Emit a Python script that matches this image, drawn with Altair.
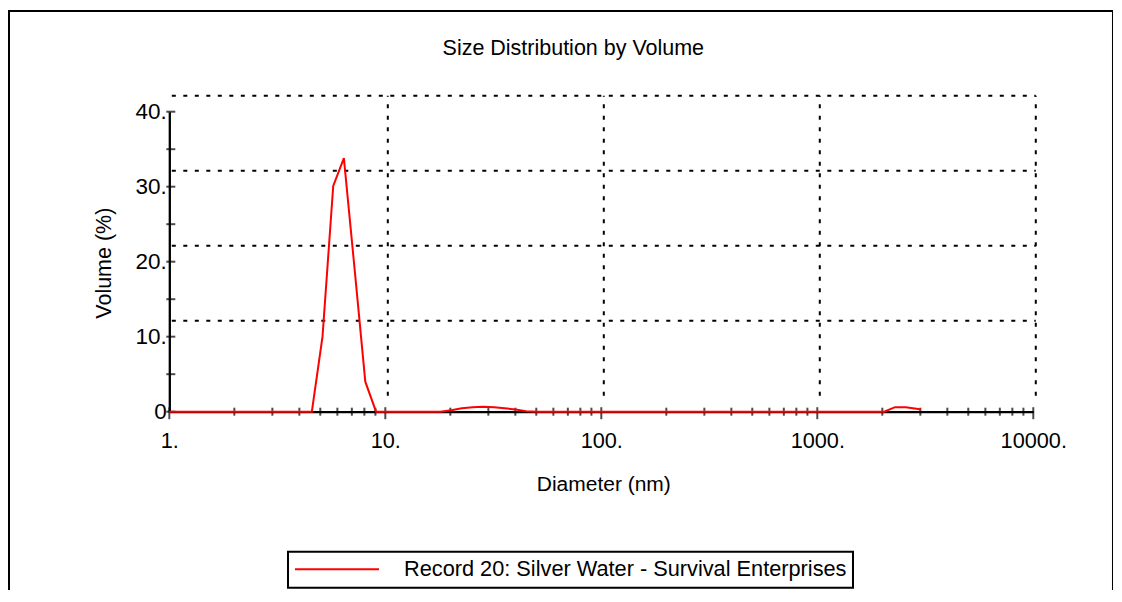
import altair as alt
import pandas as pd

# ---------------- data ----------------
series_name = "Record 20: Silver Water - Survival Enterprises"

diameter_nm = [1.0, 1.26, 1.58, 2.0, 2.51, 3.16, 3.98, 4.57, 5.12, 5.74, 6.43,
               7.21, 8.08, 9.06, 10.2, 11.4, 12.8, 14.3, 16.1, 18.0, 20.2, 22.6,
               25.4, 28.4, 31.9, 35.7, 40.1, 44.9, 50.4, 63.3, 79.6, 100, 126,
               158, 200, 251, 316, 398, 501, 631, 794, 1000, 1259, 1585, 1820,
               2040, 2290, 2570, 2880, 3020]
volume_pct = [0, 0, 0, 0, 0, 0, 0, 0, 10.0, 30.1, 33.8,
              19.0, 4.0, 0, 0, 0, 0, 0, 0, 0, 0.2, 0.45,
              0.6, 0.65, 0.6, 0.45, 0.3, 0.05, 0, 0, 0, 0, 0,
              0, 0, 0, 0, 0, 0, 0, 0, 0, 0, 0, 0,
              0, 0.6, 0.6, 0.4, 0.3]

x_label_values = [1, 10, 100, 1000, 10000]
x_tick_major = [1, 10, 100, 1000, 10000]
x_tick_minor = [2, 3, 4, 5, 6, 7, 8, 9,
                20, 30, 40, 50, 60, 70, 80, 90,
                200, 300, 400, 500, 600, 700, 800, 900,
                2000, 3000, 4000, 5000, 6000, 7000, 8000, 9000]
y_label_values = [0, 10, 20, 30, 40]
y_ticks = [0, 5, 10, 15, 20, 25, 30, 35, 40]
grid_x = [10, 100, 1000, 10000]
grid_y = [10, 20, 30, 40]

# ---------------- styling ----------------
FONT = "Liberation Sans"
W, H = 864, 300
FS = 21.7

xs = alt.Scale(type="log", domain=[1, 10000], nice=False)
ys = alt.Scale(domain=[0, 40], nice=False, zero=True)

x_axis = alt.Axis(
    values=x_label_values, format="d", labelExpr="datum.label + '.'",
    ticks=False, tickSize=0, grid=False,
    domainColor="black", domainWidth=2.3,
    labelFont=FONT, labelFontSize=FS, labelColor="black", labelPadding=19,
    labelOverlap=False, labelFlush=False,
    title="Diameter (nm)", titleFont=FONT, titleFontSize=21,
    titleFontWeight="normal", titleColor="black",
    titleX=W / 2 + 2, titleY=79, titleBaseline="alphabetic")
y_axis = alt.Axis(
    values=y_label_values, format="d",
    labelExpr="datum.value == 0 ? '0' : datum.label + '.'",
    ticks=False, tickSize=0, grid=False,
    domainColor="black", domainWidth=2.3,
    labelFont=FONT, labelFontSize=22.5, labelColor="black", labelPadding=3,
    title="Volume (%)", titleFont=FONT, titleFontSize=21.5,
    titleFontWeight="normal", titleColor="black",
    titleX=-59, titleY=H / 2 + 1, titleBaseline="alphabetic")

line_df = pd.DataFrame({"d": diameter_nm, "v": volume_pct, "s": series_name})

line = alt.Chart(line_df).mark_line(strokeWidth=2).encode(
    x=alt.X("d:Q", scale=xs, axis=x_axis),
    y=alt.Y("v:Q", scale=ys, axis=y_axis),
    color=alt.Color("s:N", scale=alt.Scale(domain=[series_name], range=["#ff0000"]),
                    legend=alt.Legend(
                        title=None, orient="none", legendX=118.7, legendY=440,
                        symbolType="M-1,0H7", symbolSize=441, symbolStrokeWidth=2,
                        labelOffset=87, labelFont=FONT, labelFontSize=21.75,
                        labelColor="black", labelLimit=800,
                        strokeColor="black", padding=6)),
)

dash = [4, 7.5]
grid_v = alt.Chart(pd.DataFrame({"g": grid_x})).mark_rule(
    strokeDash=dash, strokeWidth=2, color="black",
    xOffset=2.5, yOffset=-16, y2Offset=-16).encode(
    x=alt.X("g:Q", scale=xs, axis=x_axis),
    y=alt.YDatum(0, scale=ys, axis=y_axis),
    y2=alt.Y2Datum(40),
)
grid_h = alt.Chart(pd.DataFrame({"g": grid_y})).mark_rule(
    strokeDash=dash, strokeWidth=2, color="black",
    xOffset=2.5, x2Offset=2.5, yOffset=-16).encode(
    y=alt.Y("g:Q", scale=ys, axis=y_axis),
    x=alt.XDatum(1, scale=xs, axis=x_axis),
    x2=alt.X2Datum(10000),
)

xt_minor = alt.Chart(pd.DataFrame({"t": x_tick_minor})).mark_tick(
    orient="vertical", size=8, thickness=2, color="black").encode(
    x=alt.X("t:Q", scale=xs, axis=x_axis),
    y=alt.YDatum(0, scale=ys, axis=y_axis),
)
xt_major = alt.Chart(pd.DataFrame({"t": x_tick_major})).mark_tick(
    orient="vertical", size=12, thickness=2, color="black", yOffset=1.5).encode(
    x=alt.X("t:Q", scale=xs, axis=x_axis),
    y=alt.YDatum(0, scale=ys, axis=y_axis),
)
yt = alt.Chart(pd.DataFrame({"t": y_ticks})).mark_tick(
    orient="horizontal", size=9, thickness=2, color="black", xOffset=1.5).encode(
    y=alt.Y("t:Q", scale=ys, axis=y_axis),
    x=alt.XDatum(1, scale=xs, axis=x_axis),
)

frame = alt.Chart(alt.Data(values=[{}])).mark_rect(
    fillOpacity=0, stroke="black", strokeWidth=2).encode(
    x=alt.value(-160.3), x2=alt.value(943.7),
    y=alt.value(-100.7), y2=alt.value(520),
)

chart = alt.layer(frame, grid_v, grid_h, xt_minor, xt_major, yt, line).properties(
    width=W, height=H,
    padding={"left": 161.3, "top": 103.7, "right": 80, "bottom": 178},
    autosize=alt.AutoSizeParams(type="none"),
    title=alt.TitleParams("Size Distribution by Volume", font=FONT, fontSize=21.5,
                          fontWeight="normal", color="black", anchor="middle",
                          frame="group", baseline="alphabetic", dx=-28, dy=67,
                          offset=0),
).configure_view(strokeWidth=0).configure_legend(strokeWidth=2)

chart.save("out.html", embed_options={"renderer": "svg", "actions": False})
